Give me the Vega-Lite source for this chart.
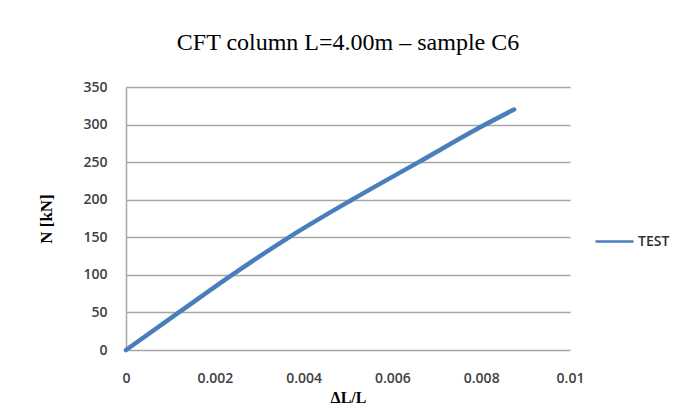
{
  "$schema": "https://vega.github.io/schema/vega-lite/v6.json",
  "width": 444,
  "height": 263,
  "autosize": {"type": "none"},
  "padding": {"left": 126, "top": 87, "right": 108, "bottom": 64},
  "background": "white",
  "title": {
    "text": "CFT column L=4.00m – sample C6",
    "font": "Liberation Serif",
    "fontSize": 24,
    "fontWeight": "normal",
    "color": "#000000",
    "anchor": "middle",
    "offset": 25
  },
  "data": {
    "values": [
      {"strain": 0, "N": 0, "series": "TEST"},
      {"strain": 0.00119, "N": 50, "series": "TEST"},
      {"strain": 0.00239, "N": 100, "series": "TEST"},
      {"strain": 0.00367, "N": 150, "series": "TEST"},
      {"strain": 0.00509, "N": 200, "series": "TEST"},
      {"strain": 0.00659, "N": 250, "series": "TEST"},
      {"strain": 0.00809, "N": 300, "series": "TEST"},
      {"strain": 0.00874, "N": 320, "series": "TEST"}
    ]
  },
  "mark": {"type": "line", "strokeWidth": 4.5, "interpolate": "monotone", "strokeCap": "round"},
  "encoding": {
    "x": {
      "field": "strain",
      "type": "quantitative",
      "scale": {"domain": [0, 0.01], "nice": false},
      "title": "ΔL/L",
      "axis": {
        "values": [0, 0.002, 0.004, 0.006, 0.008, 0.01],
        "labelExpr": "datum.value == 0 ? '0' : format(datum.value, '.3~f')",
        "labelFlush": false,
        "domain": false,
        "ticks": false,
        "grid": false,
        "labelPadding": 21,
        "labelFont": "Open Sans",
        "labelFontSize": 14,
        "labelFontWeight": 600,
        "labelColor": "#404040",
        "titleFont": "Liberation Serif",
        "titleFontSize": 16,
        "titleFontWeight": "bold",
        "titleColor": "#000000",
        "titlePadding": 4
      }
    },
    "y": {
      "field": "N",
      "type": "quantitative",
      "scale": {"domain": [0, 350], "nice": false},
      "title": "N [kN]",
      "axis": {
        "values": [0, 50, 100, 150, 200, 250, 300, 350],
        "domain": true,
        "domainColor": "#a6a6a6",
        "domainWidth": 1.5,
        "ticks": false,
        "grid": true,
        "gridColor": "#a6a6a6",
        "gridWidth": 1.5,
        "labelPadding": 19,
        "labelFont": "Open Sans",
        "labelFontSize": 14,
        "labelFontWeight": 600,
        "labelColor": "#404040",
        "titleFont": "Liberation Serif",
        "titleFontSize": 17,
        "titleFontWeight": "bold",
        "titleColor": "#000000",
        "titlePadding": 27
      }
    },
    "color": {
      "field": "series",
      "type": "nominal",
      "scale": {"range": ["#4A7EBB"]},
      "legend": {
        "title": null,
        "orient": "none",
        "legendX": 468,
        "legendY": 134,
        "symbolType": "stroke",
        "symbolSize": 1444,
        "symbolStrokeWidth": 2.5,
        "labelFont": "Open Sans",
        "labelFontSize": 14,
        "labelFontWeight": 600,
        "labelColor": "#303030",
        "labelOffset": 3
      }
    }
  },
  "config": {
    "view": {"stroke": null}
  }
}
